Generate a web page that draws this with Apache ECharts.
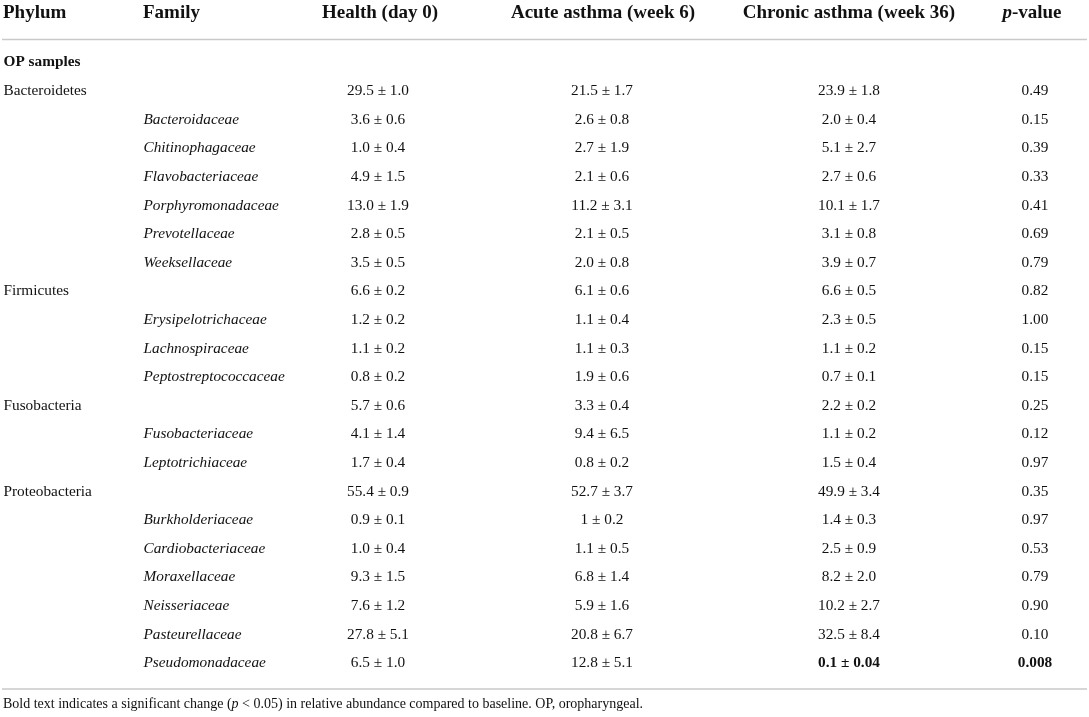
<!DOCTYPE html>
<html>
<head>
<meta charset="utf-8">
<title>OP samples relative abundance</title>
<script src="https://cdn.jsdelivr.net/npm/echarts@6/dist/echarts.min.js"></script>
<style>
  html, body { margin: 0; padding: 0; background: #fff; }
  #main { width: 1089px; height: 717px; }
</style>
</head>
<body>
<div id="main"></div>
<script>
// column headers of the table
var headers = ['Phylum', 'Family', 'Health (day 0)', 'Acute asthma (week 6)', 'Chronic asthma (week 36)', '{i|p}-value'];

// one entry per table row (first row is the "OP samples" section title)
var phylum = ['OP samples', 'Bacteroidetes', '', '', '', '', '', '', 'Firmicutes', '', '', '', 'Fusobacteria', '', '',
  'Proteobacteria', '', '', '', '', '', ''];
var family = ['', '', 'Bacteroidaceae', 'Chitinophagaceae', 'Flavobacteriaceae', 'Porphyromonadaceae', 'Prevotellaceae',
  'Weeksellaceae', '', 'Erysipelotrichaceae', 'Lachnospiraceae', 'Peptostreptococcaceae', '', 'Fusobacteriaceae',
  'Leptotrichiaceae', '', 'Burkholderiaceae', 'Cardiobacteriaceae', 'Moraxellaceae', 'Neisseriaceae', 'Pasteurellaceae',
  'Pseudomonadaceae'];
var health = ['', '29.5 ± 1.0', '3.6 ± 0.6', '1.0 ± 0.4', '4.9 ± 1.5', '13.0 ± 1.9', '2.8 ± 0.5', '3.5 ± 0.5', '6.6 ± 0.2',
  '1.2 ± 0.2', '1.1 ± 0.2', '0.8 ± 0.2', '5.7 ± 0.6', '4.1 ± 1.4', '1.7 ± 0.4', '55.4 ± 0.9', '0.9 ± 0.1', '1.0 ± 0.4',
  '9.3 ± 1.5', '7.6 ± 1.2', '27.8 ± 5.1', '6.5 ± 1.0'];
var acute = ['', '21.5 ± 1.7', '2.6 ± 0.8', '2.7 ± 1.9', '2.1 ± 0.6', '11.2 ± 3.1', '2.1 ± 0.5', '2.0 ± 0.8', '6.1 ± 0.6',
  '1.1 ± 0.4', '1.1 ± 0.3', '1.9 ± 0.6', '3.3 ± 0.4', '9.4 ± 6.5', '0.8 ± 0.2', '52.7 ± 3.7', '1 ± 0.2', '1.1 ± 0.5',
  '6.8 ± 1.4', '5.9 ± 1.6', '20.8 ± 6.7', '12.8 ± 5.1'];
var chronic = ['', '23.9 ± 1.8', '2.0 ± 0.4', '5.1 ± 2.7', '2.7 ± 0.6', '10.1 ± 1.7', '3.1 ± 0.8', '3.9 ± 0.7', '6.6 ± 0.5',
  '2.3 ± 0.5', '1.1 ± 0.2', '0.7 ± 0.1', '2.2 ± 0.2', '1.1 ± 0.2', '1.5 ± 0.4', '49.9 ± 3.4', '1.4 ± 0.3', '2.5 ± 0.9',
  '8.2 ± 2.0', '10.2 ± 2.7', '32.5 ± 8.4', '0.1 ± 0.04'];
var pValue = ['', '0.49', '0.15', '0.39', '0.33', '0.41', '0.69', '0.79', '0.82', '1.00', '0.15', '0.15', '0.25', '0.12',
  '0.97', '0.35', '0.97', '0.53', '0.79', '0.90', '0.10', '0.008'];

var footnote = 'Bold text indicates a significant change ({i|p} < 0.05) in relative abundance compared to baseline. OP, oropharyngeal.';

// layout (pixel positions on the hidden x scale)
var W = 1089;
var colX = [3, 143, 378, 602, 849, 1035];
var headX = [3, 143, 380, 603, 849, 1032];
var FONT = '"Liberation Serif", "Times New Roman", serif';
var INK = '#111';

var rowKeys = phylum.map(function (d, i) { return 'r' + i; });

function cellSeries(name, values, col, opts) {
  var data = [];
  values.forEach(function (v, i) {
    if (!v) return;
    var item = { value: [colX[col], rowKeys[i]], text: v };
    if (opts.boldRow && opts.boldRow(i)) item.label = { fontWeight: 'bold' };
    data.push(item);
  });
  return {
    name: name,
    type: 'scatter',
    silent: true,
    symbolSize: 1,
    itemStyle: { color: 'rgba(0,0,0,0)' },
    data: data,
    label: {
      show: true,
      position: opts.left ? 'right' : 'inside',
      distance: 0,
      align: opts.left ? 'left' : 'center',
      verticalAlign: 'middle',
      color: INK,
      opacity: 1,
      fontFamily: FONT,
      fontSize: 15.3,
      fontStyle: opts.italic ? 'italic' : 'normal',
      formatter: function (p) { return p.data.text; }
    },
    labelLayout: { hideOverlap: false }
  };
}

// a cell is bold when the change vs. baseline is significant
function significant(i) { return pValue[i] !== '' && parseFloat(pValue[i]) < 0.05; }

var chart = echarts.init(document.getElementById('main'), null, { renderer: 'canvas' });

var headerGraphics = headers.map(function (h, c) {
  return {
    type: 'text',
    x: headX[c],
    y: 13,
    silent: true,
    style: {
      text: h,
      fill: INK,
      font: 'bold 19px ' + FONT,
      textAlign: c < 2 ? 'left' : 'center',
      textVerticalAlign: 'middle',
      rich: { i: { fontStyle: 'italic', fontWeight: 'bold', fontSize: 19, fontFamily: FONT, fill: INK } }
    }
  };
});

var option = {
  animation: false,
  backgroundColor: '#fff',
  grid: { left: 0, right: 0, top: 48.2, height: 629.2, containLabel: false },
  xAxis: { type: 'value', min: 0, max: W, show: false },
  yAxis: { type: 'category', data: rowKeys, inverse: true, show: false, boundaryGap: true },
  graphic: headerGraphics.concat([
    { type: 'line', silent: true, shape: { x1: 2, y1: 39.5, x2: 1087, y2: 39.5 }, style: { stroke: '#c9c9c9', lineWidth: 1.5 } },
    { type: 'line', silent: true, shape: { x1: 2, y1: 689, x2: 1087, y2: 689 }, style: { stroke: '#c9c9c9', lineWidth: 1.5 } },
    {
      type: 'text', x: 3, y: 704, silent: true,
      style: {
        text: footnote, fill: INK, font: '14px ' + FONT, textAlign: 'left', textVerticalAlign: 'middle',
        rich: { i: { fontStyle: 'italic', fontSize: 14, fontFamily: FONT, fill: INK } }
      }
    }
  ]),
  series: [
    (function () {
      var s = cellSeries('Phylum', phylum, 0, { left: true });
      s.data[0].label = { fontWeight: 'bold' };
      return s;
    })(),
    cellSeries('Family', family, 1, { left: true, italic: true }),
    cellSeries('Health', health, 2, {}),
    cellSeries('Acute', acute, 3, {}),
    cellSeries('Chronic', chronic, 4, { boldRow: significant }),
    cellSeries('p', pValue, 5, { boldRow: significant })
  ]
};

chart.setOption(option);
</script>
</body>
</html>
